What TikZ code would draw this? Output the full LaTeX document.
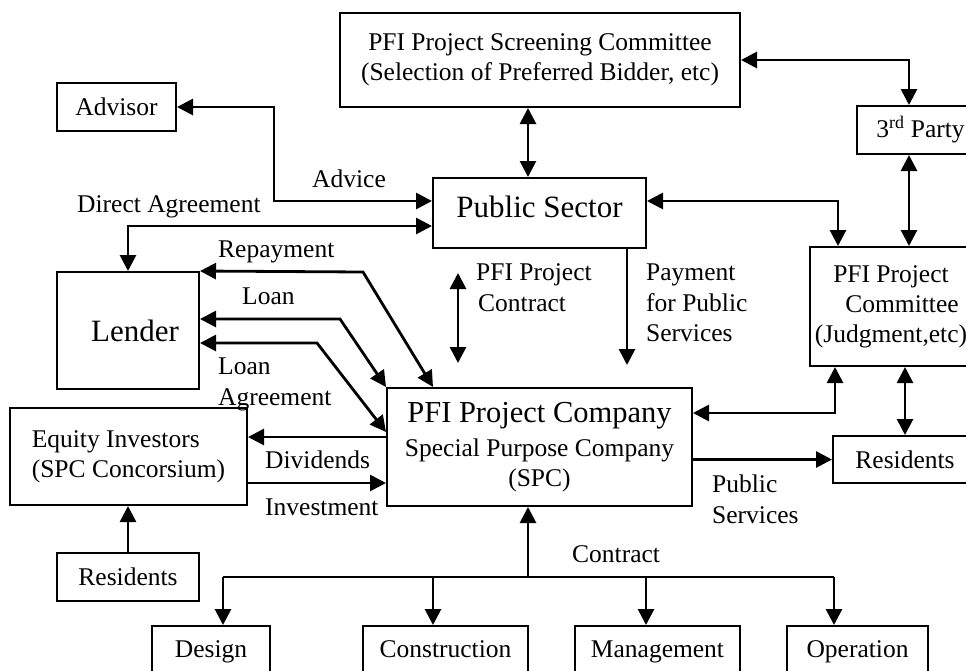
\documentclass[tikz,border=0pt]{standalone}
\usepackage{fontspec}
\setmainfont{Liberation Serif}
\usetikzlibrary{arrows.meta,calc}
\newcommand\smf{\fontsize{25.5pt}{30pt}\selectfont}
\newcommand\lgf{\fontsize{31pt}{36pt}\selectfont}
\begin{document}
\begin{tikzpicture}[x=1pt,y=-1pt,>={Triangle[length=16pt,width=16pt]},
  box/.style={draw,line width=2pt,inner sep=0pt,align=center,font=\smf},
  bottombox/.style={box,minimum height=52pt,text height=17.4pt,text depth=5.5pt},
  conn/.style={line width=2.8pt,line join=miter},
  lbl/.style={inner sep=0pt,anchor=base west,font=\smf}]
\useasboundingbox (0,0) rectangle (966,670);
\clip (0,0) rectangle (966,670);
% boxes
\node[box,minimum width=400pt,minimum height=94pt] (screen) at (540,60) {PFI Project Screening Committee\\(Selection of Preferred Bidder, etc)};
\node[box,minimum width=119pt,minimum height=48pt] (advisor) at (116.5,107) {Advisor};
\node[box,minimum width=213pt,minimum height=70pt,font=\lgf,text depth=13pt] (public) at (539.5,213) {Public Sector};
\node[box,minimum width=127pt,minimum height=48pt] (third) at (920.5,130) {3\textsuperscript{rd} Party};
\node[box,minimum width=162pt,minimum height=119pt] (committee) at (891,306.5) {PFI Project\\\hspace*{22pt}Committee\\(Judgment,etc)};
\node[box,minimum width=142pt,minimum height=117pt,font=\lgf] (lender) at (128,330.5) {\hspace*{14pt}Lender};
\node[box,minimum width=305pt,minimum height=118pt] (company) at (539.5,447) {{\fontsize{30.5pt}{34pt}\selectfont PFI Project Company}\\[4pt]Special Purpose Company\\(SPC)};
\node[box,minimum width=237pt,minimum height=97pt,align=left] (equity) at (128.5,456.5) {Equity Investors\\(SPC Concorsium)};
\node[box,minimum width=144pt,minimum height=47pt] (resR) at (905,459.5) {Residents};
\node[box,minimum width=142pt,minimum height=48pt] (resL) at (128,577) {Residents};
\node[bottombox,minimum width=118pt] (design) at (211,652) {Design};
\node[bottombox,minimum width=165pt] (constr) at (445.5,652) {Construction};
\node[bottombox,minimum width=165pt] (manage) at (657.5,652) {Management};
\node[bottombox,minimum width=141pt] (oper) at (857.5,652) {Operation};
% coordinates
\coordinate (a1) at (274,107);
\coordinate (a2) at (274,201);
\coordinate (d1) at (128,226);
\coordinate (x528) at (528,0);
\coordinate (t1) at (909,60);
\coordinate (p1) at (838,201);
\coordinate (r1) at (363,272);
\coordinate (r2) at (433,388);
\coordinate (l1) at (340,319);
\coordinate (la1) at (317,343);
\coordinate (la2) at (387,432);
\coordinate (dv) at (0,437);
\coordinate (iv) at (0,483);
\coordinate (c1) at (458,273);
\coordinate (c2) at (458,363);
\coordinate (pay) at (627,365);
\coordinate (cc) at (835,413);
\coordinate (cr) at (905,0);
\coordinate (bus) at (528,577);
\coordinate (bd) at (223,577);
\coordinate (bc) at (433,577);
\coordinate (bm) at (646,577);
\coordinate (bo) at (834,577);
% connectors
\draw[conn,<->] (advisor.east) -- (a1) -- (a2) -- (a2 -| public.west);
\draw[conn,<->] (lender.north -| d1) -- (d1) -- (d1 -| public.west);
\draw[conn,<->] (screen.south -| x528) -- (public.north -| x528);
\draw[conn,<->] (screen.east) -- (t1) -- (t1 |- third.north);
\draw[conn,<->] (third.south -| t1) -- (committee.north -| t1);
\draw[conn,<->] (p1 -| public.east) -- (p1) -- (p1 |- committee.north);
\draw[conn,<->] (lender.north east) -- (r1) -- (company.north -| r2);
\draw[conn,<->] (l1 -| lender.east) -- (l1) -- (company.north west);
\draw[conn,<->] (la1 -| lender.east) -- (la1) -- (la2 -| company.west);
\draw[conn,->] (dv -| company.west) -- (dv -| equity.east);
\draw[conn,->] (iv -| equity.east) -- (iv -| company.west);
\draw[conn,<->] (c1) -- (c2);
\draw[conn,->] (public.south -| pay) -- (pay);
\draw[conn,<->] (cc -| company.east) -- (cc) -- (cc |- committee.south);
\draw[conn,<->] (committee.south -| cr) -- (resR.north -| cr);
\draw[conn,->] (company.east |- resR.west) -- (resR.west);
\draw[conn,->] (resL.north) -- (resL.north |- equity.south);
\draw[conn,->] (bus) -- (company.south -| bus);
\draw[conn] (bd) -- (bo);
\draw[conn,->] (bd) -- (bd |- design.north);
\draw[conn,->] (bc) -- (bc |- constr.north);
\draw[conn,->] (bm) -- (bm |- manage.north);
\draw[conn,->] (bo) -- (bo |- oper.north);
% labels
\node[lbl] (lAdvice) at (312,187) {Advice};
\node[lbl] (lDirect) at (77,212) {Direct Agreement};
\node[lbl] (lRepay) at (218,257) {Repayment};
\node[lbl] (lLoan) at (242,304) {Loan};
\node[lbl] (lLA1) at (218,374) {Loan};
\node[lbl] (lLA2) at (218,405) {Agreement};
\node[lbl] (lPC1) at (476,280) {PFI Project};
\node[lbl] (lPC2) at (478,311) {Contract};
\node[lbl] (lPay1) at (646,280) {Payment};
\node[lbl] (lPay2) at (646,311) {for Public};
\node[lbl] (lPay3) at (646,341) {Services};
\node[lbl] (lDiv) at (265,468) {Dividends};
\node[lbl] (lInv) at (265,515) {Investment};
\node[lbl] (lPS1) at (712,492) {Public};
\node[lbl] (lPS2) at (712,523) {Services};
\node[lbl] (lCon) at (572,562) {Contract};
\end{tikzpicture}
\end{document}
